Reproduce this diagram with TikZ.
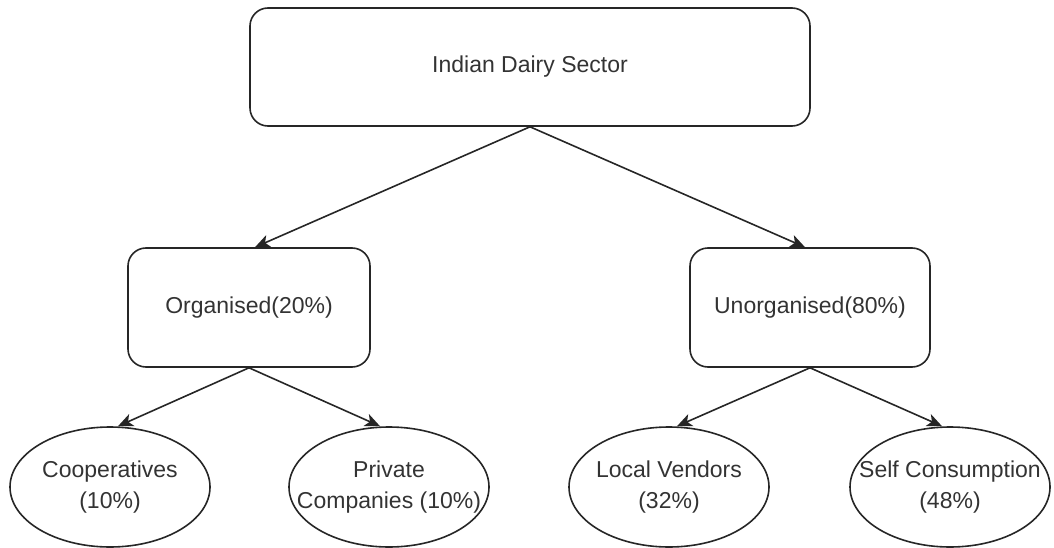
\documentclass[tikz,border=0pt]{standalone}
\usepackage{fontspec}
\setmainfont{Liberation Sans}
\usetikzlibrary{arrows.meta,shapes.geometric}
\newcommand{\zw}[1]{\makebox[0pt]{#1}}
\begin{document}
\begin{tikzpicture}[x=1pt,y=-1pt,
  every node/.style={font=\fontsize{23}{31}\selectfont, text=black!80},
  rbox/.style={draw=black!85, line width=1.6pt, rounded corners=18pt, align=center, inner sep=0pt},
  ebox/.style={draw=black!85, line width=1.6pt, ellipse, minimum width=200pt, minimum height=120pt, inner sep=0pt, align=center},
  conn/.style={draw=black!85, line width=1.6pt, -{Stealth[length=15pt,width=13pt,inset=4pt]}}
]
\useasboundingbox (0,0) rectangle (1054,548);
\node[rbox, minimum width=560pt, minimum height=118pt] (top) at (530,67) {Indian Dairy Sector};
\node[rbox, minimum width=242pt, minimum height=119pt] (org) at (249,307.5) {Organised(20\%)};
\node[rbox, minimum width=240pt, minimum height=119pt] (unorg) at (810,307.5) {Unorganised(80\%)};
\node[ebox] (coop) at (110,487) {\zw{Cooperatives}\\\zw{(10\%)}};
\node[ebox] (priv) at (389,487) {\zw{Private}\\\zw{Companies (10\%)}};
\node[ebox] (local) at (669,487) {\zw{Local Vendors}\\\zw{(32\%)}};
\node[ebox] (self) at (950,487) {\zw{Self Consumption}\\\zw{(48\%)}};
\draw[conn] (top.south) -- ([xshift=6pt]org.north);
\draw[conn] (top.south) -- ([xshift=-5pt]unorg.north);
\draw[conn] (org.south) -- ([xshift=8pt]coop.north);
\draw[conn] (org.south) -- ([xshift=-9pt]priv.north);
\draw[conn] (unorg.south) -- ([xshift=8pt]local.north);
\draw[conn] (unorg.south) -- ([xshift=-8pt]self.north);
\end{tikzpicture}
\end{document}
